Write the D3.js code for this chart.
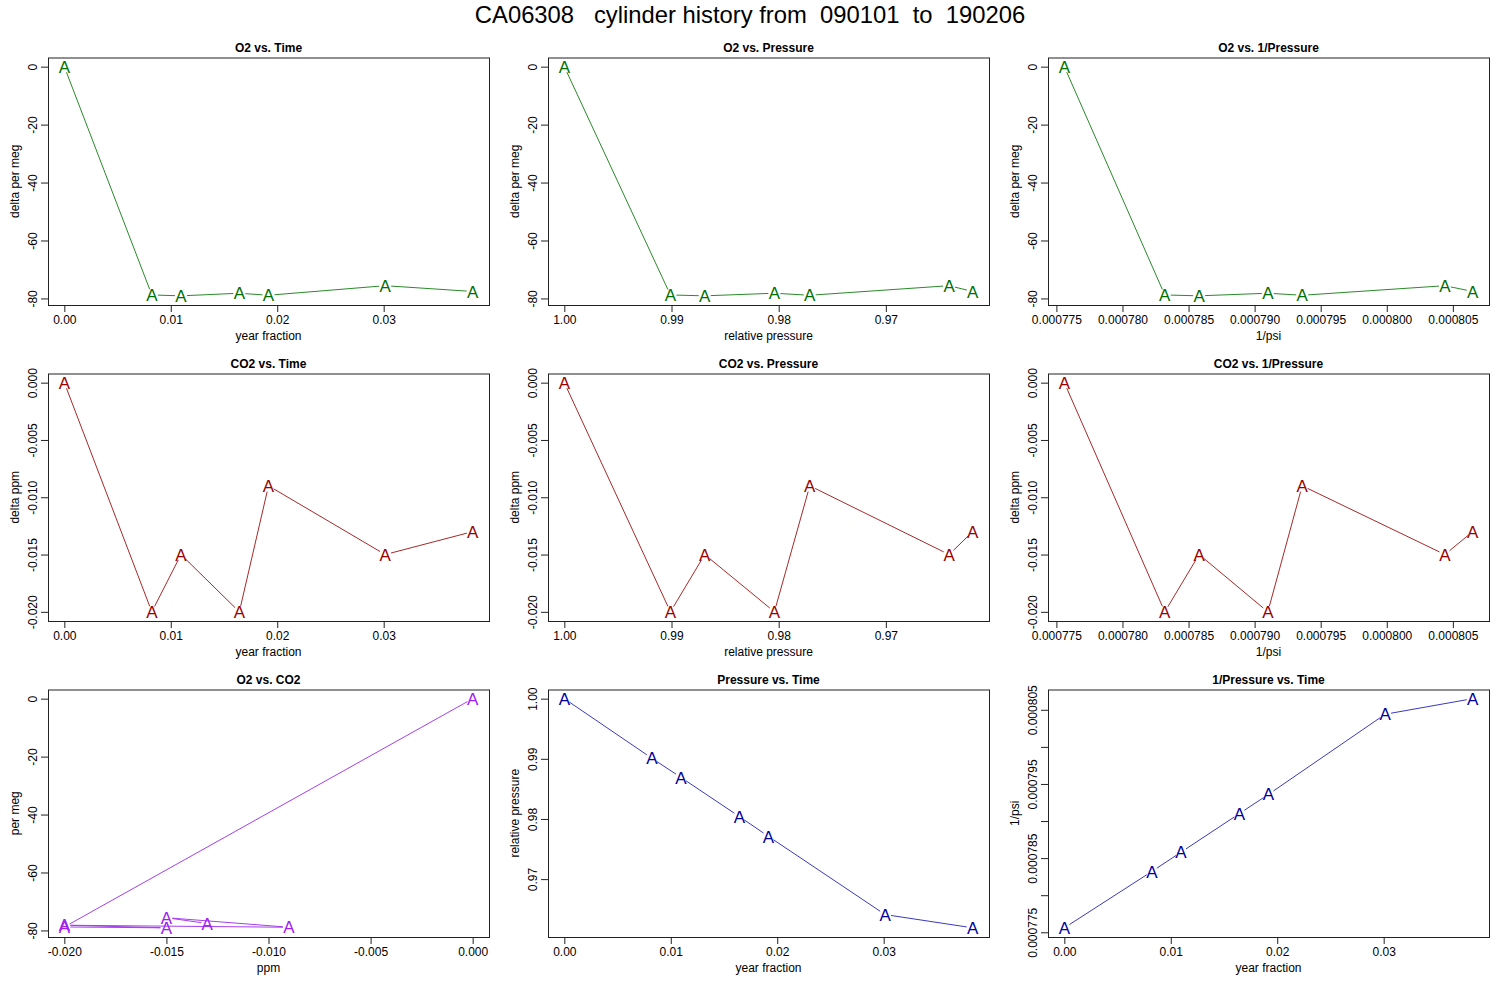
<!DOCTYPE html>
<html>
<head>
<meta charset="utf-8">
<script src="https://cdn.jsdelivr.net/npm/d3@7"></script>
<style>
  html, body { margin: 0; padding: 0; background: #fff; }
  svg { display: block; font-family: "Liberation Sans", Arial, Helvetica, sans-serif; }
</style>
</head>
<body>
<svg id="chart" width="1500" height="1000"></svg>
<script>
// ---- data ----
const yearFraction = [0, 0.00822, 0.01096, 0.01644, 0.01918, 0.03014, 0.03836];
const o2PerMeg     = [0, -78.8, -79.1, -78.2, -78.9, -75.6, -77.6];
const co2Ppm       = [0, -0.020, -0.015, -0.020, -0.009, -0.015, -0.013];
const relPressure  = [1.0000, 0.9901, 0.9869, 0.9804, 0.9771, 0.9641, 0.9619];
const invPsi       = [0.0007756, 0.0007832, 0.0007858, 0.0007910, 0.0007936, 0.0008044, 0.0008065];

const timeTicks     = [0, 0.01, 0.02, 0.03];
const o2Ticks       = [0, -20, -40, -60, -80];
const co2Ticks      = [0, -0.005, -0.010, -0.015, -0.020];
const co2AxisTicks  = [-0.020, -0.015, -0.010, -0.005, 0.000];
const pressureTicks = [1.00, 0.99, 0.98, 0.97];
const invPsiTicks   = [0.000775, 0.000780, 0.000785, 0.000790, 0.000795, 0.000800, 0.000805];
const invPsiLabeledTicks = [0.000775, 0.000785, 0.000795, 0.000805];

const mainTitle = "CA06308   cylinder history from  090101  to  190206";

// ---- styling ----
const green  = { text: "#006f00", line: "#2a8a2a" };
const red    = { text: "#9a0000", line: "#a82828" };
const purple = { text: "#a020f0", line: "#a83ef0" };
const blue   = { text: "#00009c", line: "#3a3ac0" };

const fmt = f => v => d3.format(f)(v).replace("\u2212", "-");

const panels = [
  { title: "O2 vs. Time", x: yearFraction, y: o2PerMeg, xlab: "year fraction", ylab: "delta per meg",
    xt: timeTicks, xf: fmt(".2f"), yt: o2Ticks, yf: fmt("d"), col: green },
  { title: "O2 vs. Pressure", x: relPressure, y: o2PerMeg, xlab: "relative pressure", ylab: "delta per meg",
    xt: pressureTicks, xf: fmt(".2f"), yt: o2Ticks, yf: fmt("d"), col: green, xrev: true },
  { title: "O2 vs. 1/Pressure", x: invPsi, y: o2PerMeg, xlab: "1/psi", ylab: "delta per meg",
    xt: invPsiTicks, xf: fmt(".6f"), yt: o2Ticks, yf: fmt("d"), col: green },
  { title: "CO2 vs. Time", x: yearFraction, y: co2Ppm, xlab: "year fraction", ylab: "delta ppm",
    xt: timeTicks, xf: fmt(".2f"), yt: co2Ticks, yf: fmt(".3f"), col: red },
  { title: "CO2 vs. Pressure", x: relPressure, y: co2Ppm, xlab: "relative pressure", ylab: "delta ppm",
    xt: pressureTicks, xf: fmt(".2f"), yt: co2Ticks, yf: fmt(".3f"), col: red, xrev: true },
  { title: "CO2 vs. 1/Pressure", x: invPsi, y: co2Ppm, xlab: "1/psi", ylab: "delta ppm",
    xt: invPsiTicks, xf: fmt(".6f"), yt: co2Ticks, yf: fmt(".3f"), col: red },
  { title: "O2 vs. CO2", x: co2Ppm, y: o2PerMeg, xlab: "ppm", ylab: "per meg",
    xt: co2AxisTicks, xf: fmt(".3f"), yt: o2Ticks, yf: fmt("d"), col: purple },
  { title: "Pressure vs. Time", x: yearFraction, y: relPressure, xlab: "year fraction", ylab: "relative pressure",
    xt: timeTicks, xf: fmt(".2f"), yt: pressureTicks, yf: fmt(".2f"), col: blue },
  { title: "1/Pressure vs. Time", x: yearFraction, y: invPsi, xlab: "year fraction", ylab: "1/psi",
    xt: timeTicks, xf: fmt(".2f"), yt: invPsiTicks, yf: fmt(".6f"), ylabeled: invPsiLabeledTicks, col: blue }
];

const svg = d3.select("#chart");

svg.append("text")
  .attr("x", 750).attr("y", 23)
  .attr("text-anchor", "middle")
  .attr("font-size", 23.8)
  .style("white-space", "pre")
  .text(mainTitle);

// R-style range with 4% padding
function rDomain(vals) {
  const [lo, hi] = d3.extent(vals);
  const pad = (hi - lo) * 0.04;
  return [lo - pad, hi + pad];
}

const boxW = 441, boxH = 247.5, tickLen = 7, gap = 6;

panels.forEach((p, i) => {
  const col = i % 3, row = Math.floor(i / 3);
  const left = 48 + 500 * col, top = 57.5 + 316 * row;
  const right = left + boxW, bottom = top + boxH;

  const xd = rDomain(p.x);
  const x = d3.scaleLinear().domain(p.xrev ? [xd[1], xd[0]] : xd).range([left, right]);
  const y = d3.scaleLinear().domain(rDomain(p.y)).range([bottom, top]);

  const g = svg.append("g");

  // title
  g.append("text")
    .attr("x", (left + right) / 2).attr("y", top - 6)
    .attr("text-anchor", "middle").attr("font-size", 12).attr("font-weight", "bold")
    .text(p.title);

  // x axis ticks + labels
  const xa = g.append("g").attr("transform", `translate(0,${bottom})`)
    .call(d3.axisBottom(x).tickValues(p.xt).tickFormat(p.xf).tickSize(tickLen).tickPadding(3));
  xa.select(".domain").remove();
  xa.selectAll("line").attr("stroke", "#222");
  xa.selectAll("text").attr("font-size", 12).attr("fill", "#000")
    .attr("font-family", "Liberation Sans, Arial, sans-serif");

  // y axis ticks + rotated labels
  const ya = g.append("g").attr("transform", `translate(${left},0)`)
    .call(d3.axisLeft(y).tickValues(p.yt).tickFormat(p.yf).tickSize(tickLen));
  ya.select(".domain").remove();
  ya.selectAll("line").attr("stroke", "#222");
  ya.selectAll("text")
    .attr("font-size", 12).attr("fill", "#000")
    .attr("font-family", "Liberation Sans, Arial, sans-serif")
    .attr("text-anchor", "middle")
    .attr("x", null).attr("dy", null)
    .attr("transform", "translate(-11,0) rotate(-90)")
    .text(d => (p.ylabeled && !p.ylabeled.some(v => Math.abs(v - d) < 1e-12)) ? "" : p.yf(d));

  // axis titles
  g.append("text")
    .attr("x", (left + right) / 2).attr("y", bottom + 35)
    .attr("text-anchor", "middle").attr("font-size", 12)
    .text(p.xlab);
  g.append("text")
    .attr("transform", `translate(${left - 29},${(top + bottom) / 2}) rotate(-90)`)
    .attr("text-anchor", "middle").attr("font-size", 12)
    .text(p.ylab);

  // connecting segments with gaps (type = "b")
  const pts = p.x.map((v, k) => [x(v), y(p.y[k])]);
  for (let k = 0; k < pts.length - 1; k++) {
    const [x0, y0] = pts[k], [x1, y1] = pts[k + 1];
    const len = Math.hypot(x1 - x0, y1 - y0);
    if (len <= 2 * gap) continue;
    const ux = (x1 - x0) / len, uy = (y1 - y0) / len;
    g.append("line")
      .attr("x1", x0 + ux * gap).attr("y1", y0 + uy * gap)
      .attr("x2", x1 - ux * gap).attr("y2", y1 - uy * gap)
      .attr("stroke", p.col.line).attr("stroke-width", 1);
  }

  // point symbols "A"
  g.selectAll("text.pt").data(pts).join("text")
    .attr("class", "pt")
    .attr("x", d => d[0]).attr("y", d => d[1])
    .attr("dy", "0.36em")
    .attr("text-anchor", "middle").attr("font-size", 17)
    .attr("fill", p.col.text)
    .text("A");

  // box
  g.append("rect")
    .attr("x", left + 0.5).attr("y", top + 0.5)
    .attr("width", boxW).attr("height", boxH)
    .attr("fill", "none").attr("stroke", "#222").attr("stroke-width", 1);
});
</script>
</body>
</html>
